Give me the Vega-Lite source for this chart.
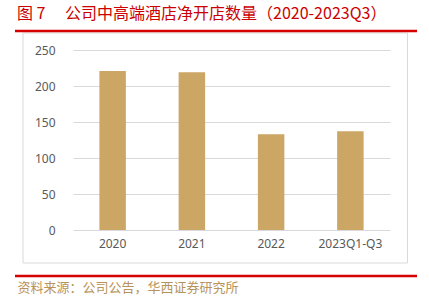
{
  "$schema": "https://vega.github.io/schema/vega-lite/v6.json",
  "autosize": "none",
  "width": 317,
  "height": 180,
  "padding": {"left": 73, "top": 50, "right": 39, "bottom": 78},
  "background": "white",
  "title": {
    "text": "图 7　 公司中高端酒店净开店数量（2020-2023Q3）",
    "anchor": "start",
    "frame": "group",
    "dx": -56,
    "dy": 8,
    "font": "Noto Sans CJK SC",
    "fontSize": 16,
    "fontWeight": "normal",
    "color": "#CC0000",
    "baseline": "middle",
    "offset": 8
  },
  "config": {
    "view": {"stroke": null},
    "font": "Noto Sans"
  },
  "layer": [
    {
      "data": {"values": [{"box": 1}]},
      "mark": {"type": "rect", "fill": null, "stroke": "#D9D9D9", "strokeWidth": 1},
      "encoding": {
        "x": {"value": -50},
        "x2": {"value": 334.5},
        "y": {"value": -17},
        "y2": {"value": 213}
      }
    },
    {
      "data": {
        "values": [
          {"period": "2020", "stores": 221},
          {"period": "2021", "stores": 219},
          {"period": "2022", "stores": 133},
          {"period": "2023Q1-Q3", "stores": 137}
        ]
      },
      "mark": {"type": "bar", "color": "#CCA664"},
      "encoding": {
        "x": {
          "field": "period",
          "type": "nominal",
          "sort": null,
          "scale": {"paddingInner": 0.666, "paddingOuter": 0.333},
          "axis": {
            "title": "资料来源：公司公告，华西证券研究所",
            "titleX": -56,
            "titleY": 57,
            "titleAlign": "left",
            "titleBaseline": "middle",
            "titleAnchor": "start",
            "titleFont": "Noto Sans CJK SC",
            "titleFontSize": 13,
            "titleFontWeight": "normal",
            "titleColor": "#B8935A",
            "labelAngle": 0,
            "labelFontSize": 12,
            "labelColor": "#595959",
            "labelPadding": 8,
            "domain": false,
            "ticks": false
          }
        },
        "y": {
          "field": "stores",
          "type": "quantitative",
          "scale": {"domain": [0, 250]},
          "axis": {
            "title": null,
            "values": [0, 50, 100, 150, 200, 250],
            "gridColor": "#D9D9D9",
            "domain": false,
            "ticks": false,
            "labelFontSize": 12,
            "labelColor": "#595959",
            "labelPadding": 18
          }
        }
      }
    },
    {
      "data": {"values": [{"line": "top"}]},
      "mark": {"type": "rule", "stroke": "#D50000", "strokeWidth": 2.5},
      "encoding": {
        "x": {"value": -58},
        "x2": {"value": 344},
        "y": {"value": -19}
      }
    },
    {
      "data": {"values": [{"line": "bottom"}]},
      "mark": {"type": "rule", "stroke": "#D50000", "strokeWidth": 2.5},
      "encoding": {
        "x": {"value": -58},
        "x2": {"value": 344},
        "y": {"value": 226}
      }
    }
  ]
}
